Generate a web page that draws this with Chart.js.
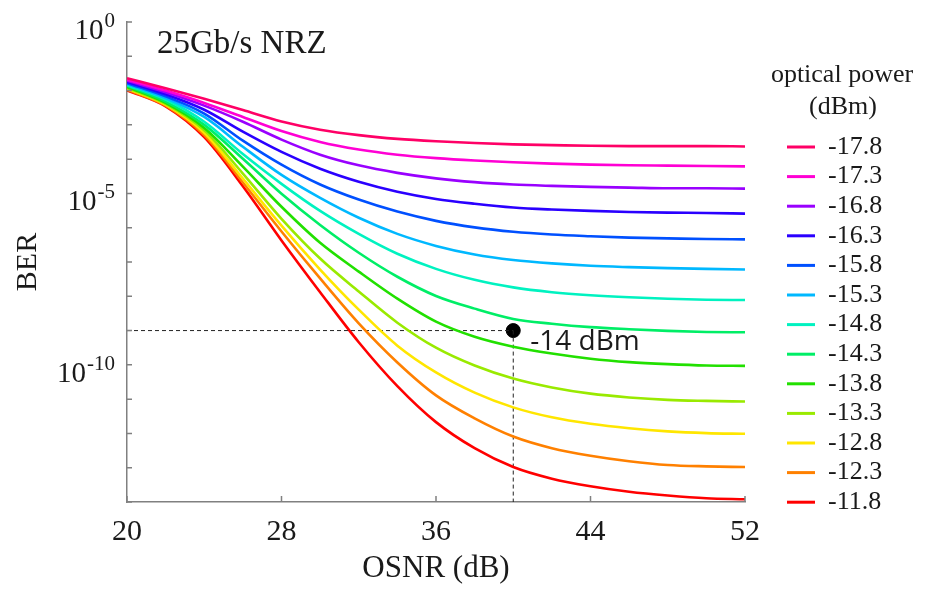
<!DOCTYPE html>
<html>
<head>
<meta charset="utf-8">
<title>BER vs OSNR, 25Gb/s NRZ</title>
<script src="https://cdn.jsdelivr.net/npm/chart.js@4.4.1/dist/chart.umd.min.js"></script>
<style>
  html, body { margin: 0; padding: 0; background: #fff; }
  #wrap { position: relative; width: 925px; height: 591px; }
</style>
</head>
<body>
<div id="wrap"><canvas id="berChart"></canvas></div>
<script>
// OSNR sample points (dB)
const osnr = [20, 22, 24, 26, 28, 30, 32, 34, 36, 38, 40, 42, 44, 46, 48, 50, 52];

// log10(BER) at each OSNR point, one array per received optical power
const logBer_m17_8 = [-1.64, -1.93, -2.24, -2.57, -2.90, -3.14, -3.30, -3.41, -3.48, -3.53, -3.57, -3.59, -3.61, -3.62, -3.62, -3.62, -3.63];
const logBer_m17_3 = [-1.68, -2.00, -2.36, -2.77, -3.18, -3.50, -3.72, -3.87, -3.97, -4.04, -4.09, -4.13, -4.16, -4.18, -4.19, -4.20, -4.21];
const logBer_m16_8 = [-1.71, -2.05, -2.44, -2.91, -3.43, -3.87, -4.18, -4.40, -4.56, -4.67, -4.74, -4.78, -4.81, -4.83, -4.85, -4.85, -4.86];
const logBer_m16_3 = [-1.75, -2.11, -2.56, -3.20, -3.79, -4.28, -4.66, -4.95, -5.16, -5.30, -5.41, -5.47, -5.51, -5.54, -5.56, -5.57, -5.59];
const logBer_m15_8 = [-1.78, -2.17, -2.67, -3.46, -4.16, -4.74, -5.18, -5.53, -5.80, -5.99, -6.12, -6.20, -6.25, -6.29, -6.31, -6.33, -6.34];
const logBer_m15_3 = [-1.81, -2.22, -2.77, -3.64, -4.46, -5.13, -5.71, -6.18, -6.53, -6.78, -6.94, -7.04, -7.11, -7.15, -7.18, -7.20, -7.22];
const logBer_m14_8 = [-1.84, -2.26, -2.91, -3.85, -4.72, -5.51, -6.18, -6.76, -7.20, -7.52, -7.74, -7.88, -7.97, -8.03, -8.07, -8.10, -8.11];
const logBer_m14_3 = [-1.86, -2.32, -3.00, -3.99, -5.01, -5.92, -6.73, -7.43, -7.99, -8.36, -8.66, -8.80, -8.90, -8.96, -9.01, -9.04, -9.05];
const logBer_m13_8 = [-1.89, -2.36, -3.09, -4.22, -5.39, -6.44, -7.28, -8.07, -8.74, -9.18, -9.47, -9.67, -9.82, -9.92, -9.98, -10.02, -10.03];
const logBer_m13_3 = [-1.92, -2.39, -3.16, -4.42, -5.74, -6.90, -7.86, -8.77, -9.50, -10.02, -10.40, -10.66, -10.84, -10.95, -11.02, -11.05, -11.07];
const logBer_m12_8 = [-1.94, -2.41, -3.23, -4.57, -5.94, -7.22, -8.39, -9.44, -10.22, -10.81, -11.24, -11.53, -11.72, -11.85, -11.94, -11.99, -12.01];
const logBer_m12_3 = [-1.97, -2.44, -3.30, -4.68, -6.11, -7.48, -8.79, -9.93, -10.89, -11.56, -12.09, -12.43, -12.65, -12.81, -12.92, -12.96, -12.98];
const logBer_m11_8 = [-1.99, -2.46, -3.36, -4.79, -6.37, -7.88, -9.34, -10.62, -11.67, -12.43, -12.98, -13.32, -13.54, -13.70, -13.81, -13.89, -13.92];

const powerLabels = ['-17.8', '-17.3', '-16.8', '-16.3', '-15.8', '-15.3', '-14.8',
                     '-14.3', '-13.8', '-13.3', '-12.8', '-12.3', '-11.8'];
const powerCurves = [logBer_m17_8, logBer_m17_3, logBer_m16_8, logBer_m16_3, logBer_m15_8,
                     logBer_m15_3, logBer_m14_8, logBer_m14_3, logBer_m13_8, logBer_m13_3,
                     logBer_m12_8, logBer_m12_3, logBer_m11_8];
const curveColors = ['#ff0066', '#ff00d4', '#9900ff', '#2a00ff', '#0050ff', '#00b8ff', '#00f2c0',
                     '#00ee66', '#22e000', '#99ea00', '#ffe600', '#ff8000', '#ff0000'];

// axes
const xTicks = [20, 28, 36, 44, 52];
const berDecades = [0, -1, -2, -3, -4, -5, -6, -7, -8, -9, -10, -11, -12, -13, -14];
const berLabelExps = [0, -5, -10];

// operating point called out on the plot
const markerOsnr = 40;
const markerBer = 1e-9;
const markerText = '-14 dBm';

const chartTitle = '25Gb/s NRZ';
const legendTitle = ['optical power', '(dBm)'];

const SERIF = '"Liberation Serif", "Times New Roman", serif';
const TEXT = '#1a1a1a';
const AXIS = '#808080';

Chart.defaults.font.family = SERIF;
Chart.defaults.color = TEXT;

const curveSets = powerCurves.map((logs, i) => ({
  label: powerLabels[i],
  data: osnr.map((o, j) => ({ x: o, y: 10 ** logs[j] })),
  borderColor: curveColors[i],
  backgroundColor: curveColors[i],
  borderWidth: 2.6,
  pointRadius: 0,
  cubicInterpolationMode: 'monotone',
  isCurve: true
}));

const guideStyle = {
  borderColor: '#222',
  borderWidth: 1,
  borderDash: [4, 3],
  pointRadius: 0,
  fill: false
};

// tick marks pointing into the plot, 10^n labels, annotations and legend
const decorations = {
  id: 'decorations',
  afterDraw(chart) {
    const { ctx, chartArea: ca, scales: { x, y } } = chart;
    ctx.save();

    ctx.strokeStyle = AXIS;
    ctx.lineWidth = 1.5;
    ctx.beginPath();
    xTicks.forEach(v => {
      const px = x.getPixelForValue(v);
      ctx.moveTo(px, ca.bottom);
      ctx.lineTo(px, ca.bottom - 6);
    });
    berDecades.forEach(e => {
      const py = y.getPixelForValue(10 ** e);
      ctx.moveTo(ca.left, py);
      ctx.lineTo(ca.left + 5, py);
    });
    ctx.stroke();

    ctx.fillStyle = TEXT;
    ctx.textAlign = 'right';
    ctx.textBaseline = 'alphabetic';
    berLabelExps.forEach(e => {
      const py = y.getPixelForValue(10 ** e);
      const right = ca.left - 12;
      const sup = String(e);
      ctx.font = '21px ' + SERIF;
      ctx.fillText(sup, right, py + 5);
      const w = ctx.measureText(sup).width;
      ctx.font = '29px ' + SERIF;
      ctx.fillText('10', right - w - 1, py + 17);
    });

    ctx.textAlign = 'left';
    ctx.font = '33px ' + SERIF;
    ctx.fillText(chartTitle, ca.left + 30, ca.top + 31);

    ctx.font = '28px "Open Sans", "Noto Sans", sans-serif';
    ctx.fillText(markerText, x.getPixelForValue(markerOsnr) + 17, y.getPixelForValue(markerBer) + 19);

    // legend
    const lx = ca.right + 42;
    const ly = ca.top + 125;
    const step = 29.6;
    ctx.textAlign = 'center';
    ctx.textBaseline = 'middle';
    ctx.font = '26px ' + SERIF;
    ctx.fillText(legendTitle[0], lx + 55, ca.top + 53);
    ctx.fillText(legendTitle[1], lx + 56, ca.top + 85);

    ctx.textAlign = 'left';
    chart.data.datasets.filter(d => d.isCurve).forEach((d, i) => {
      const cy = ly + i * step;
      ctx.strokeStyle = d.borderColor;
      ctx.lineWidth = 3;
      ctx.beginPath();
      ctx.moveTo(lx, cy);
      ctx.lineTo(lx + 28, cy);
      ctx.stroke();
      ctx.fillStyle = TEXT;
      ctx.fillText(d.label, lx + 41, cy);
    });

    ctx.restore();
  }
};

new Chart(document.getElementById('berChart'), {
  type: 'line',
  data: {
    datasets: [
      ...curveSets,
      { ...guideStyle, label: 'h', data: [{ x: xTicks[0], y: markerBer }, { x: markerOsnr, y: markerBer }] },
      { ...guideStyle, label: 'v', data: [{ x: markerOsnr, y: markerBer }, { x: markerOsnr, y: 10 ** berDecades[berDecades.length - 1] }] },
      { type: 'scatter', label: 'marker', data: [{ x: markerOsnr, y: markerBer }],
        pointRadius: 7, backgroundColor: '#000', borderColor: '#000' }
    ]
  },
  options: {
    responsive: true,
    maintainAspectRatio: false,
    animation: false,
    layout: { padding: { top: 22, right: 180, left: 0, bottom: 0 } },
    plugins: { legend: { display: false }, tooltip: { enabled: false } },
    scales: {
      x: {
        type: 'linear',
        min: xTicks[0],
        max: xTicks[xTicks.length - 1],
        afterBuildTicks: s => { s.ticks = xTicks.map(v => ({ value: v })); },
        afterFit: s => { s.height = 89; },
        grid: { display: false, drawTicks: false },
        border: { color: AXIS, width: 1.5 },
        ticks: { color: TEXT, font: { size: 30 }, padding: 12, maxRotation: 0, autoSkip: false },
        title: { display: true, text: 'OSNR (dB)', color: TEXT, font: { size: 31 }, padding: { top: 0, bottom: 4 } }
      },
      y: {
        type: 'logarithmic',
        min: 10 ** berDecades[berDecades.length - 1],
        max: 10 ** berDecades[0],
        afterBuildTicks: s => { s.ticks = berDecades.map(e => ({ value: 10 ** e })); },
        afterFit: s => { s.width = 127; },
        grid: { display: false, drawTicks: false },
        border: { color: AXIS, width: 1.5 },
        ticks: { display: false },
        title: { display: true, text: 'BER', color: TEXT, font: { size: 30 }, padding: { top: 10, bottom: 0 } }
      }
    }
  },
  plugins: [decorations]
});
</script>
</body>
</html>
